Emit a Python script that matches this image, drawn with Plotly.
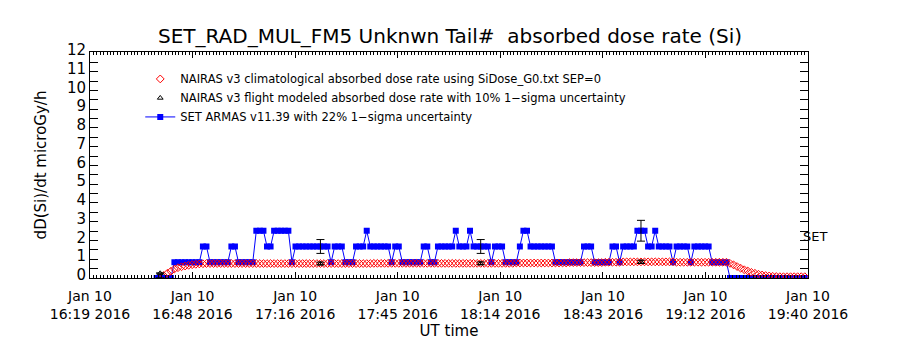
import plotly.graph_objects as go
import pandas as pd

title_text = "SET_RAD_MUL_FM5 Unknwn Tail#  absorbed dose rate (Si)"
y_title = "dD(Si)/dt microGy/h"
x_title = "UT time"
side_label = "SET"

name_clim = "NAIRAS v3 climatological absorbed dose rate using SiDose_G0.txt SEP=0"
name_flight = "NAIRAS v3 flight modeled absorbed dose rate with 10% 1\u2212sigma uncertainty"
name_armas = "SET ARMAS v11.39 with 22% 1\u2212sigma uncertainty"

x_range = ["2016-01-10 16:19:18", "2016-01-10 19:40:54"]
x_tick_times = ["2016-01-10 16:19:18", "2016-01-10 16:48:06", "2016-01-10 17:16:54",
                "2016-01-10 17:45:42", "2016-01-10 18:14:30", "2016-01-10 18:43:18",
                "2016-01-10 19:12:06", "2016-01-10 19:40:54"]
x_tick_time_labels = ["16:19 2016", "16:48 2016", "17:16 2016", "17:45 2016",
                      "18:14 2016", "18:43 2016", "19:12 2016", "19:40 2016"]
x_tick_date_labels = ["Jan 10", "Jan 10", "Jan 10", "Jan 10",
                      "Jan 10", "Jan 10", "Jan 10", "Jan 10"]
y_tick_values = [0, 1, 2, 3, 4, 5, 6, 7, 8, 9, 10, 11, 12]
y_tick_labels = ["0", "1", "2", "3", "4", "5", "6", "7", "8", "9", "10", "11", "12"]

# SET ARMAS absorbed dose rate, one sample per minute from 16:38
armas_start = "2016-01-10 16:38:00"
armas_dose = [
    0.0, 0.0, 0.0, 0.0, 0.0, 0.84, 0.84, 0.84, 0.84, 0.84,
    0.84, 0.84, 0.84, 1.68, 1.68, 0.84, 0.84, 0.84, 0.84, 0.84,
    0.84, 1.68, 1.68, 0.84, 0.84, 0.84, 0.84, 0.84, 2.52, 2.52,
    2.52, 1.68, 1.68, 2.52, 2.52, 2.52, 2.52, 2.52, 0.84, 1.68,
    1.68, 1.68, 1.68, 1.68, 1.68, 1.68, 1.68, 1.68, 1.68, 0.84,
    1.68, 1.68, 1.68, 0.84, 0.84, 0.84, 1.68, 1.68, 1.68, 2.52,
    1.68, 1.68, 1.68, 1.68, 1.68, 1.68, 0.84, 1.68, 1.68, 0.84,
    0.84, 0.84, 0.84, 0.84, 0.84, 1.68, 1.68, 0.84, 0.84, 1.68,
    1.68, 1.68, 1.68, 1.68, 2.52, 1.68, 1.68, 1.68, 2.52, 1.68,
    1.68, 1.68, 1.68, 1.68, 0.84, 1.68, 1.68, 1.68, 0.84, 0.84,
    0.84, 0.84, 1.68, 2.52, 2.52, 1.68, 1.68, 1.68, 1.68, 1.68,
    1.68, 1.68, 0.84, 0.84, 0.84, 0.84, 0.84, 0.84, 0.84, 0.84,
    1.68, 1.68, 1.68, 0.84, 0.84, 0.84, 0.84, 0.84, 1.68, 1.68,
    0.84, 1.68, 1.68, 1.68, 1.68, 2.52, 2.52, 2.52, 1.68, 1.68,
    2.52, 1.68, 1.68, 1.68, 1.68, 0.84, 1.68, 1.68, 1.68, 1.68,
    0.84, 1.68, 1.68, 1.68, 1.68, 1.68, 0.84, 0.84, 0.84, 0.84,
    0.84, 0.0, 0.0, 0.0, 0.0, 0.0, 0.0, 0.0, 0.0, 0.0,
    0.0, 0.0, 0.0, 0.0, 0.0, 0.0, 0.0, 0.0, 0.0, 0.0,
    0.0, 0.0, 0.0,
]
armas_unc_pct = 22

# NAIRAS climatological absorbed dose rate, one sample per minute from 16:40
clim_start = "2016-01-10 16:40:00"
clim_dose = [
    0.13, 0.25, 0.36, 0.48, 0.55, 0.60, 0.64, 0.68, 0.71, 0.73,
    0.75, 0.76, 0.77, 0.77, 0.77, 0.77, 0.77, 0.77, 0.77, 0.77,
    0.77, 0.77, 0.77, 0.77, 0.77, 0.77, 0.77, 0.77, 0.77, 0.77,
    0.77, 0.77, 0.77, 0.77, 0.77, 0.77, 0.77, 0.77, 0.77, 0.77,
    0.77, 0.77, 0.77, 0.77, 0.77, 0.77, 0.77, 0.77, 0.77, 0.77,
    0.77, 0.77, 0.77, 0.77, 0.77, 0.77, 0.77, 0.77, 0.77, 0.78,
    0.78, 0.78, 0.78, 0.78, 0.78, 0.78, 0.78, 0.78, 0.78, 0.78,
    0.78, 0.78, 0.78, 0.78, 0.78, 0.78, 0.78, 0.78, 0.78, 0.78,
    0.78, 0.78, 0.78, 0.78, 0.78, 0.78, 0.78, 0.78, 0.78, 0.78,
    0.78, 0.78, 0.78, 0.78, 0.78, 0.78, 0.78, 0.78, 0.78, 0.80,
    0.80, 0.80, 0.80, 0.80, 0.80, 0.80, 0.80, 0.80, 0.80, 0.80,
    0.80, 0.80, 0.80, 0.80, 0.82, 0.82, 0.82, 0.82, 0.82, 0.82,
    0.82, 0.82, 0.82, 0.82, 0.84, 0.84, 0.84, 0.84, 0.84, 0.86,
    0.86, 0.86, 0.86, 0.86, 0.86, 0.86, 0.86, 0.86, 0.86, 0.86,
    0.86, 0.86, 0.86, 0.86, 0.84, 0.84, 0.84, 0.84, 0.84, 0.84,
    0.84, 0.84, 0.84, 0.84, 0.84, 0.84, 0.84, 0.84, 0.84, 0.78,
    0.70, 0.61, 0.52, 0.44, 0.37, 0.30, 0.25, 0.20, 0.16, 0.13,
    0.11, 0.09, 0.08, 0.07, 0.07, 0.07, 0.07, 0.07, 0.07, 0.07,
    0.07,
]

# NAIRAS flight modeled dose rate at the ARMAS samples that carry error bars
err_sample_index = [1, 46, 91, 136]
flight_dose = [0.25, 0.77, 0.78, 0.86]
flight_unc_pct = 10

FONT = "DejaVu Sans"

armas_t = pd.date_range(armas_start, periods=len(armas_dose), freq="1min")
clim_t = pd.date_range(clim_start, periods=len(clim_dose), freq="1min")
err_t = [armas_t[i] for i in err_sample_index]
err_armas = [armas_dose[i] for i in err_sample_index]

fig = go.Figure()

fig.add_trace(go.Scatter(
    x=armas_t, y=armas_dose, mode="lines+markers", name=name_armas,
    line=dict(color="#0000ff", width=1),
    marker=dict(symbol="square", size=6, color="#0000ff"),
    legendrank=3,
))
fig.add_trace(go.Scatter(
    x=err_t, y=err_armas, mode="markers", showlegend=False, hoverinfo="skip",
    marker=dict(size=1, color="rgba(0,0,0,0)"),
    error_y=dict(type="percent", value=armas_unc_pct, color="black", thickness=1, width=4),
))
fig.add_trace(go.Scatter(
    x=err_t, y=flight_dose, mode="markers", name=name_flight, xaxis="x2",
    marker=dict(symbol="triangle-up-open", size=5, color="black", line=dict(width=1)),
    error_y=dict(type="percent", value=flight_unc_pct, color="black", thickness=1, width=4),
    legendrank=2,
))
fig.add_trace(go.Scatter(
    x=clim_t, y=clim_dose, mode="markers", name=name_clim,
    marker=dict(symbol="diamond-open", size=6, color="#ff0000", line=dict(width=1)),
    legendrank=1,
))

fig.add_annotation(x=0.99, y=2.2, xref="paper", yref="y", text=side_label,
                   showarrow=False, xanchor="left", yanchor="middle",
                   font=dict(family=FONT, size=13, color="black"))

axis_common = dict(showline=True, linecolor="black", linewidth=1, mirror="ticks",
                   showgrid=False, zeroline=False, ticks="inside", tickcolor="black")

fig.update_layout(
    width=900, height=350,
    margin=dict(l=90, r=92, t=52, b=72, autoexpand=False),
    paper_bgcolor="white", plot_bgcolor="white",
    title=dict(text=title_text, x=0.5, xanchor="center", y=0.897, yanchor="middle",
               font=dict(family=FONT, size=20, color="black")),
    xaxis=dict(**axis_common, type="date", range=x_range, tickmode="array",
               tickvals=x_tick_times, ticktext=x_tick_time_labels, ticklen=6,
               ticklabelstandoff=23,
               tickfont=dict(family=FONT, size=14, color="black"),
               minor=dict(ticks="inside", ticklen=3, dtick=57600, tick0=x_tick_times[0],
                          tickcolor="black", showgrid=False),
               title=dict(text=x_title, standoff=0, font=dict(family=FONT, size=15, color="black"))),
    xaxis2=dict(overlaying="x", matches="x", anchor="y", side="bottom", type="date",
                showline=False, showgrid=False, zeroline=False, ticks="",
                tickmode="array", tickvals=x_tick_times, ticktext=x_tick_date_labels,
                ticklabelstandoff=8,
                tickfont=dict(family=FONT, size=14, color="black")),
    yaxis=dict(**axis_common, range=[0, 12.05], tickmode="array",
               tickvals=y_tick_values, ticktext=y_tick_labels, ticklen=8,
               ticklabelshift=-3,
               tickfont=dict(family=FONT, size=15, color="black"),
               minor=dict(ticks="inside", ticklen=8, dtick=0.5, tickcolor="black", showgrid=False),
               title=dict(text=y_title, standoff=16, font=dict(family=FONT, size=15, color="black"))),
    legend=dict(x=0.07, y=0.945, xanchor="left", yanchor="top", bgcolor="rgba(0,0,0,0)",
                font=dict(family=FONT, size=11.5, color="black"), tracegroupgap=0),
    showlegend=True,
)

fig.write_html("out.html")
